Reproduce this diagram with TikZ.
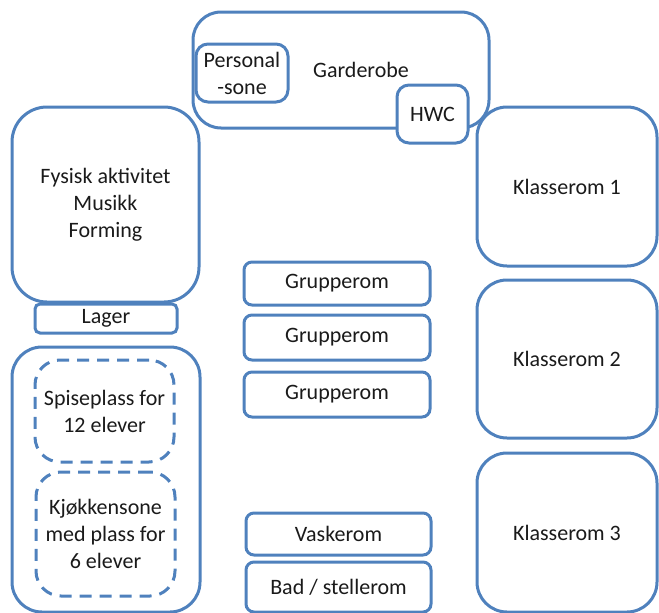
\documentclass[tikz,border=0pt]{standalone}
\usepackage{fontspec}
\setmainfont{Carlito}
\definecolor{roomblue}{RGB}{79,129,189}
\definecolor{labelgrey}{RGB}{26,26,26}
\begin{document}
\begin{tikzpicture}[x=1pt,y=-1pt,
  room/.style={draw=roomblue, line width=3pt, rounded corners=#1, inner sep=0pt,
    align=center, text=labelgrey, font=\fontsize{22}{27}\selectfont},
  room/.default=12pt,
  subroom/.style={room=#1, fill=white},
  zone/.style={room=#1, dash pattern=on 12pt off 8pt},
  caption/.style={text=labelgrey, font=\fontsize{22}{27}\selectfont, inner sep=0pt}]
\useasboundingbox (0,0) rectangle (659,613);
\clip (0,0) rectangle (659,613);

% Wardrobe with its two small rooms
\node[room=28pt, minimum width=296pt, minimum height=116pt] (gard) at (341,70) {};
\node[caption] (gardtxt) at (361,70) {Garderobe};
\node[subroom=12pt, minimum width=92pt, minimum height=58pt] (pers) at (242,73) {Personal\\-sone};
\node[subroom=12pt, minimum width=71pt, minimum height=58pt] (hwc) at (432.5,114) {HWC};

% Left wing
\node[room=35pt, minimum width=187pt, minimum height=195pt] (fys) at (105.5,204.5)
  {Fysisk aktivitet\\Musikk\\Forming};
\node[room=5pt, minimum width=142pt, minimum height=29pt] (lager) at (106,318.5) {Lager};
\node[room=30pt, minimum width=188pt, minimum height=265pt] (mat) at (106,479.5) {};
\node[zone=25pt, minimum width=139pt, minimum height=102pt] (spise) at (104.5,411)
  {Spiseplass for\\12 elever};
\node[zone=25pt, minimum width=139pt, minimum height=124pt] (kjokken) at (105.5,534)
  {Kjøkkensone\\med plass for\\6 elever};

% Group rooms and wet rooms
\node[room=8pt, minimum width=186pt, minimum height=43pt] (g1) at (337,283.5) {Grupperom};
\node[room=8pt, minimum width=186pt, minimum height=45pt] (g2) at (337,337.5) {Grupperom};
\node[room=8pt, minimum width=186pt, minimum height=45pt] (g3) at (337,394.5) {Grupperom};
\node[room=8pt, minimum width=185pt, minimum height=42pt] (vask) at (338.5,534) {Vaskerom};
\node[room=8pt, minimum width=185pt, minimum height=50pt] (bad) at (338.5,587) {Bad / stellerom};

% Classrooms
\node[room=30pt, minimum width=180pt, minimum height=159pt] (k1) at (567,186.5) {Klasserom 1};
\node[room=30pt, minimum width=180pt, minimum height=158pt] (k2) at (567,359) {Klasserom 2};
\node[room=30pt, minimum width=180pt, minimum height=159pt] (k3) at (567,532.5) {Klasserom 3};
\end{tikzpicture}
\end{document}
